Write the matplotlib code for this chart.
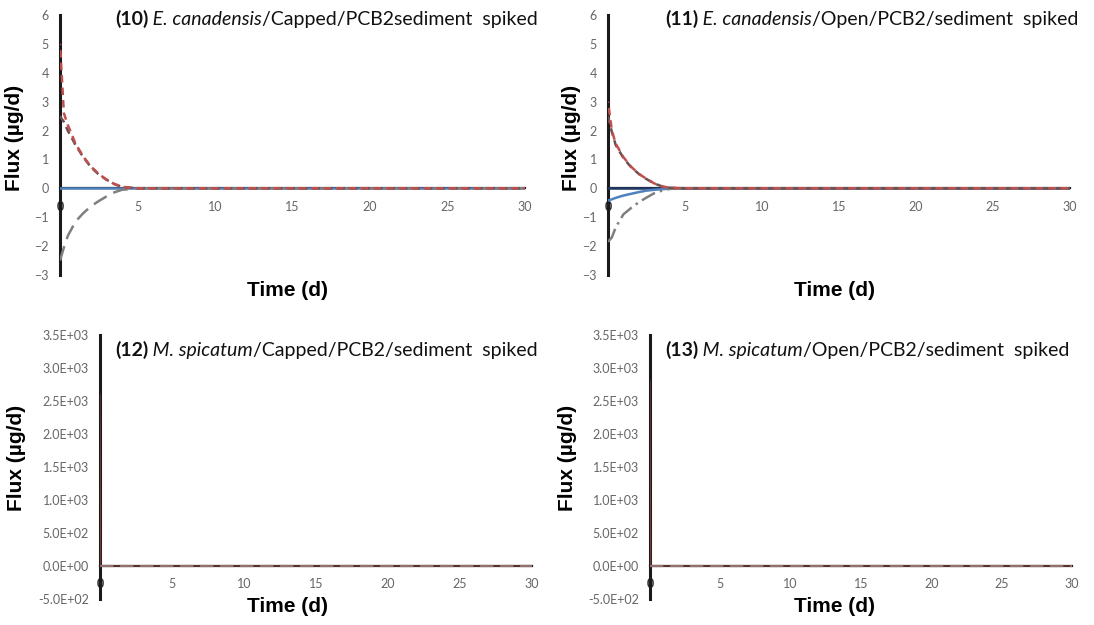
import matplotlib.pyplot as plt
from matplotlib.ticker import FormatStrFormatter

plt.rcParams['font.family'] = ['Lato', 'DejaVu Sans']

# time (d)
t_top = [0, 0.25, 0.5, 1, 1.5, 2, 2.5, 3, 3.5, 4, 5, 10, 15, 20, 25, 30]
t_bot = [0, 0.05, 1, 5, 10, 15, 20, 25, 30]

# (10) E. canadensis / Capped / PCB2 sediment spiked  -- flux (ug/d)
p10_red = [5.0, 2.6, 2.2, 1.55, 1.1, 0.75, 0.5, 0.3, 0.15, 0.05, 0, 0, 0, 0, 0, 0]
p10_gray_pos = [2.5, 2.3, 2.0, 1.5, 1.08, 0.73, 0.48, 0.3, 0.15, 0.05, 0, 0, 0, 0, 0, 0]
p10_gray_neg = [-2.5, -2.05, -1.65, -1.15, -0.86, -0.62, -0.44, -0.28, -0.14, -0.05, 0, 0, 0, 0, 0, 0]
p10_blue = [0, 0, 0, 0, 0, 0, 0, 0, 0, 0, 0, 0, 0, 0, 0, 0]

# (11) E. canadensis / Open / PCB2 / sediment spiked
p11_red = [3.0, 2.0, 1.55, 1.08, 0.75, 0.5, 0.33, 0.17, 0.07, 0.02, 0, 0, 0, 0, 0, 0]
p11_gray_pos = [2.5, 1.95, 1.5, 1.05, 0.73, 0.5, 0.32, 0.17, 0.07, 0.02, 0, 0, 0, 0, 0, 0]
p11_gray_neg = [-1.85, -1.7, -1.35, -0.9, -0.68, -0.48, -0.32, -0.17, -0.08, -0.02, 0, 0, 0, 0, 0, 0]
p11_blue = [-0.42, -0.38, -0.33, -0.25, -0.19, -0.13, -0.08, -0.05, -0.03, -0.01, 0, 0, 0, 0, 0, 0]

# (12) M. spicatum / Capped / PCB2 / sediment spiked
p12_red = [2600, 0, 0, 0, 0, 0, 0, 0, 0]
p12_gray = [0, 0, 0, 0, 0, 0, 0, 0, 0]

# (13) M. spicatum / Open / PCB2 / sediment spiked
p13_red = [2800, 0, 0, 0, 0, 0, 0, 0, 0]
p13_gray = [0, 0, 0, 0, 0, 0, 0, 0, 0]

x_ticks = [0, 5, 10, 15, 20, 25, 30]
y_ticks_top = [-3, -2, -1, 0, 1, 2, 3, 4, 5, 6]
y_ticks_bot = [-500, 0, 500, 1000, 1500, 2000, 2500, 3000, 3500]

RED = '#C0504D'
GRAY = '#7F7F7F'
BLUE = '#4F81BD'
NAVY = '#1F3864'

W, H = 1094, 625
fig = plt.figure(figsize=(W / 100, H / 100), dpi=100)


def add_ax(x0, x1, ytop, ybot):
    return fig.add_axes([x0 / W, 1 - ybot / H, (x1 - x0) / W, (ybot - ytop) / H])


def style(ax, ylim, yticks, sci=False):
    ax.set_xlim(0, 30)
    ax.set_ylim(*ylim)
    ax.set_xticks(x_ticks)
    ax.set_yticks(yticks)
    if sci:
        ax.yaxis.set_major_formatter(FormatStrFormatter('%.1E'))
    for s in ['top', 'right']:
        ax.spines[s].set_visible(False)
    ax.spines['bottom'].set_position(('data', 0))
    ax.spines['bottom'].set_color('#222222')
    ax.spines['bottom'].set_linewidth(1.6)
    ax.spines['left'].set_position(('data', 0))
    ax.spines['left'].set_color('#1a1a1a')
    ax.spines['left'].set_linewidth(2.2)
    ax.tick_params(axis='both', length=0, labelsize=9, labelcolor='#666666')
    ax.tick_params(axis='x', pad=9)
    ax.tick_params(axis='y', pad=8)
    ax.get_xticklabels()[0].set_color('#333333')
    ax.get_xticklabels()[0].set_fontweight('bold')
    ax.patch.set_alpha(0)


def title(ax, x, y, num, species, rest):
    t1 = ax.text(x, y, num, transform=ax.transAxes, fontsize=14,
                 fontweight='bold', va='center', color='#111111')
    t2 = ax.annotate(' ' + species, xy=(1, 0), xycoords=t1, va='bottom',
                     fontsize=14, style='italic', color='#111111')
    ax.annotate(rest, xy=(1, 0), xycoords=t2, va='bottom', fontsize=14,
                color='#111111')


def labels(ax, ylab_xy, xlab_xy):
    ax.set_ylabel('Flux (µg/d)', fontsize=15, fontweight='bold',
                  family=['Liberation Sans', 'DejaVu Sans'])
    ax.yaxis.set_label_coords(*ylab_xy)
    ax.set_xlabel('Time (d)', fontsize=15, fontweight='bold',
                  family=['Liberation Sans', 'DejaVu Sans'])
    ax.xaxis.set_label_coords(*xlab_xy)


# ---- (10)
ax = add_ax(60, 525, 15, 275)
ax.plot(t_top, p10_blue, color=BLUE, lw=1.8, zorder=3)
ax.plot(t_top, p10_gray_neg, color=GRAY, lw=1.8, ls=(0, (6, 3)), zorder=6)
ax.plot(t_top, p10_gray_pos, color='#6b5050', lw=1.8, ls=(0, (3, 2)), zorder=6)
ax.plot(t_top, p10_red, color=RED, lw=1.8, ls=(2.5, (3, 2)), zorder=6)
style(ax, (-3, 6), y_ticks_top)
title(ax, 0.118, 0.985, '(10)', 'E. canadensis', '/Capped/PCB2sediment  spiked')
labels(ax, (-0.077, 0.527), (0.49, -0.023))

# ---- (11)
ax = add_ax(608, 1070, 15, 275)
ax.plot(t_top, [0] * len(t_top), color=NAVY, lw=1.8, zorder=3)
ax.plot(t_top, p11_blue, color=BLUE, lw=1.8, zorder=3)
ax.plot(t_top, p11_gray_neg, color=GRAY, lw=1.8, ls=(0, (6, 2, 1, 2)), zorder=6)
ax.plot(t_top, p11_gray_pos, color='#6b5050', lw=1.8, ls=(0, (3, 2)), zorder=6)
ax.plot(t_top, p11_red, color=RED, lw=1.8, ls=(2.5, (3, 2)), zorder=6)
style(ax, (-3, 6), y_ticks_top)
title(ax, 0.123, 0.985, '(11)', 'E. canadensis', '/Open/PCB2/sediment  spiked')
labels(ax, (-0.058, 0.527), (0.49, -0.023))

# ---- (12)
ax = add_ax(100, 532, 335, 599)
ax.plot(t_bot, p12_gray, color=GRAY, lw=1.6, ls=(0, (6, 3)), zorder=6)
ax.plot(t_bot, p12_red, color=RED, lw=0.8, alpha=0.6, zorder=6)
style(ax, (-500, 3500), y_ticks_bot, sci=True)
title(ax, 0.035, 0.943, '(12)', 'M. spicatum', '/Capped/PCB2/sediment  spiked')
labels(ax, (-0.171, 0.534), (0.435, 0.008))

# ---- (13)
ax = add_ax(650, 1072, 335, 599)
ax.plot(t_bot, p13_gray, color=GRAY, lw=1.6, ls=(0, (6, 3)), zorder=6)
ax.plot(t_bot, p13_red, color=RED, lw=0.8, alpha=0.6, zorder=6)
style(ax, (-500, 3500), y_ticks_bot, sci=True)
title(ax, 0.036, 0.943, '(13)', 'M. spicatum', '/Open/PCB2/sediment  spiked')
labels(ax, (-0.173, 0.534), (0.438, 0.008))

fig.savefig('out.png', dpi=100)
